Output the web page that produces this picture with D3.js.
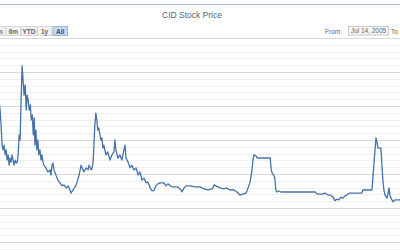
<!DOCTYPE html>
<html><head><meta charset="utf-8">
<script src="https://cdn.jsdelivr.net/npm/d3@7"></script>
<style>html,body{margin:0;padding:0;background:#fff;}svg{display:block;}</style>
</head><body>
<svg id="c" width="400" height="250"></svg>
<script>
const title = "CID Stock Price";
const rangeButtons = ["3m", "6m", "YTD", "1y", "All"];
const selectedButton = "All";
const fromLabel = "From:";
const fromDate = "Jul 14, 2005";
const toLabel = "To";
const yMajorTicks = [0, 10, 20, 30, 40, 50, 60, 70];
const yMinorTicks = d3.range(0, 71, 2);

const dates = [
"2005-07-14","2005-07-25","2005-08-01","2005-08-07","2005-08-13","2005-08-19","2005-08-25",
"2005-09-01","2005-09-07","2005-09-13","2005-09-19","2005-09-25","2005-10-01","2005-10-07","2005-10-13","2005-10-19","2005-10-25",
"2005-11-01","2005-11-07","2005-11-13","2005-11-19","2005-11-25","2005-12-01","2005-12-07","2005-12-13","2005-12-19","2005-12-25",
"2006-01-01","2006-01-07","2006-01-13","2006-01-19","2006-01-25","2006-02-01","2006-02-07","2006-02-13","2006-02-19","2006-02-25",
"2006-03-01","2006-03-07","2006-03-13","2006-03-19","2006-03-25","2006-04-01","2006-04-07","2006-04-13","2006-04-19","2006-04-25",
"2006-05-07","2006-05-19","2006-06-01","2006-06-07","2006-06-13","2006-06-19","2006-06-25","2006-07-07","2006-07-19",
"2006-08-01","2006-08-13","2006-08-25","2006-09-07","2006-09-19","2006-10-01","2006-10-07","2006-10-19","2006-11-01","2006-11-13","2006-11-25",
"2006-12-07","2006-12-13","2006-12-25","2007-01-07","2007-01-19","2007-01-25","2007-02-07","2007-02-13","2007-02-19","2007-02-25",
"2007-03-01","2007-03-07","2007-03-13","2007-03-19","2007-03-25","2007-04-01","2007-04-07","2007-04-13","2007-04-19","2007-04-25",
"2007-05-07","2007-05-19","2007-06-01","2007-06-13","2007-06-25","2007-07-01","2007-07-07","2007-07-19","2007-08-01","2007-08-13","2007-08-25",
"2007-09-01","2007-09-07","2007-09-19","2007-10-01","2007-10-13","2007-10-25","2007-11-07","2007-11-19","2007-12-01","2007-12-13","2007-12-25",
"2008-01-07","2008-01-19","2008-02-01","2008-02-13","2008-02-25","2008-03-07","2008-03-19","2008-04-01","2008-04-25","2008-05-07","2008-05-19",
"2008-06-13","2008-07-19","2008-08-07","2008-08-13","2008-08-25","2008-09-07","2008-10-01","2008-11-01","2008-12-01","2008-12-25",
"2009-01-19","2009-02-13","2009-02-25","2009-03-07","2009-04-01","2009-04-25","2009-05-07","2009-06-01","2009-06-25","2009-07-13",
"2009-08-01","2009-08-19","2009-09-07","2009-09-19","2009-10-01","2009-10-13","2009-10-19","2009-10-25","2009-11-07","2009-11-13","2009-12-13",
"2010-02-01","2010-02-07","2010-02-13","2010-02-25","2010-03-01","2010-03-07","2010-03-13","2010-03-25","2010-04-07","2010-05-01","2010-08-01",
"2010-11-01","2010-11-07","2010-11-19","2010-12-13","2011-01-01","2011-01-19","2011-02-01","2011-02-19","2011-03-01","2011-03-13","2011-03-25",
"2011-04-07","2011-04-19","2011-05-01","2011-06-01","2011-08-13","2011-08-19","2011-10-13","2011-10-19","2011-10-25","2011-11-01","2011-11-07",
"2011-11-13","2011-11-19","2011-12-07","2011-12-13","2011-12-19","2011-12-25","2012-01-01","2012-01-13","2012-01-19","2012-01-25","2012-02-01",
"2012-02-07","2012-02-19","2012-03-01","2012-04-01","2012-05-01"
];
const prices = [
48.8,51.8,48.8,44.4,38.5,37.1,38.5,
35.6,37.1,34.1,35.6,32.6,34.7,33.5,35.6,34.1,32.6,
34.1,33.2,33.5,35.6,41.5,40.0,51.8,61.8,57.6,53.2,
56.2,48.8,53.2,51.8,48.8,50.3,45.9,47.4,41.5,46.5,
38.5,42.9,37.1,40.0,35.6,37.1,34.1,35.6,33.5,32.6,
31.8,30.6,31.2,29.7,32.6,33.2,31.2,29.7,28.2,
27.4,26.5,26.8,25.9,26.5,25.3,24.4,25.3,26.2,27.6,29.7,
32.6,31.8,30.6,31.8,31.2,32.6,31.2,31.8,34.1,40.0,
44.4,47.9,45.9,42.9,43.5,41.5,40.0,40.6,37.6,38.5,
35.6,36.5,34.1,35.6,36.5,40.0,37.1,34.7,35.6,34.1,37.1,
38.5,34.7,33.5,31.8,32.6,31.2,31.8,29.7,30.6,28.2,28.8,
27.4,27.6,25.9,25.0,25.3,26.5,27.1,27.4,27.4,26.5,27.1,
26.2,26.2,25.3,24.7,25.9,26.5,26.5,26.2,26.2,25.6,
25.3,25.6,26.8,26.5,25.9,25.6,25.9,25.3,25.3,24.7,
23.8,24.1,24.4,25.9,27.6,31.2,34.1,35.6,35.3,34.7,34.7,
34.7,31.2,30.3,29.4,28.8,25.3,24.7,25.0,24.7,24.7,24.7,
24.7,24.4,24.1,24.1,24.4,23.8,23.8,23.2,22.1,22.6,22.4,
23.2,22.9,23.5,24.4,24.4,25.3,25.3,28.8,32.6,37.1,40.6,
39.4,37.6,37.6,32.6,28.2,25.3,23.8,22.9,24.1,25.9,23.5,
22.9,21.8,22.4,22.4,22.4
];

const parse = d3.timeParse("%Y-%m-%d");
const data = dates.map((d, i) => ({date: parse(d), value: prices[i]}));

const svg = d3.select("#c");
const W = 400;

const x = d3.scaleTime()
  .domain([parse("2005-07-01"), parse("2012-08-01")])
  .range([-5, 420]);
const y = d3.scaleLinear().domain([0, 70]).range([276, 38]);

// outer border top
svg.append("line").attr("x1", 0).attr("x2", W).attr("y1", 4.5).attr("y2", 4.5)
  .attr("stroke", "#a9bfdc").attr("stroke-width", 1);

// title
svg.append("text").attr("x", 192).attr("y", 18).attr("text-anchor", "middle")
  .attr("font-family", "Liberation Sans, Arial, sans-serif").attr("font-size", 8.5)
  .attr("fill", "#4d6680").text(title);

// grid: minor then major
const grid = svg.append("g");
grid.selectAll("line.minor").data(yMinorTicks.filter(v => v % 10 !== 0)).join("line")
  .attr("x1", 0).attr("x2", W)
  .attr("y1", d => Math.round(y(d)) + 0.5).attr("y2", d => Math.round(y(d)) + 0.5)
  .attr("stroke", "#efefef").attr("stroke-width", 1);
grid.selectAll("line.major").data(yMajorTicks).join("line")
  .attr("x1", 0).attr("x2", W)
  .attr("y1", d => Math.round(y(d)) + 0.5).attr("y2", d => Math.round(y(d)) + 0.5)
  .attr("stroke", "#d9d9d9").attr("stroke-width", 1);

// range selector buttons
const btnX = d3.scaleBand().domain(rangeButtons).range([-10, 67]).paddingInner(0.07);
const bg = svg.append("g");
rangeButtons.forEach(b => {
  const sel = b === selectedButton;
  bg.append("rect").attr("x", btnX(b) + 0.5).attr("y", 26.5)
    .attr("width", btnX.bandwidth()).attr("height", 9)
    .attr("fill", sel ? "#c6d8f0" : "#f2f2f2")
    .attr("stroke", sel ? "#9db6d8" : "#d6d6d6").attr("stroke-width", 1);
  bg.append("text").attr("x", btnX(b) + btnX.bandwidth() / 2 + 0.5).attr("y", 33.8)
    .attr("text-anchor", "middle").attr("font-family", "Liberation Sans, Arial, sans-serif")
    .attr("font-size", 6.5).attr("font-weight", "bold")
    .attr("fill", sel ? "#39546f" : "#666").text(b);
});

// from / to
svg.append("text").attr("x", 342).attr("y", 33.5).attr("text-anchor", "end")
  .attr("font-family", "Liberation Sans, Arial, sans-serif").attr("font-size", 6.5)
  .attr("fill", "#666").text(fromLabel);
svg.append("rect").attr("x", 348.5).attr("y", 26.5).attr("width", 40).attr("height", 8.5)
  .attr("fill", "#f7f7f7").attr("stroke", "#c8c8c8");
svg.append("text").attr("x", 368.5).attr("y", 33.3).attr("text-anchor", "middle")
  .attr("font-family", "Liberation Sans, Arial, sans-serif").attr("font-size", 6.5)
  .attr("fill", "#4d6680").text(fromDate);
svg.append("text").attr("x", 391).attr("y", 33.5)
  .attr("font-family", "Liberation Sans, Arial, sans-serif").attr("font-size", 6.5)
  .attr("fill", "#666").text(toLabel);

// series line
const line = d3.line().x(d => x(d.date)).y(d => y(d.value));
svg.append("path").datum(data).attr("d", line)
  .attr("fill", "none").attr("stroke", "#4572a7").attr("stroke-width", 1.3)
  .attr("stroke-linejoin", "round");
</script>
</body></html>
